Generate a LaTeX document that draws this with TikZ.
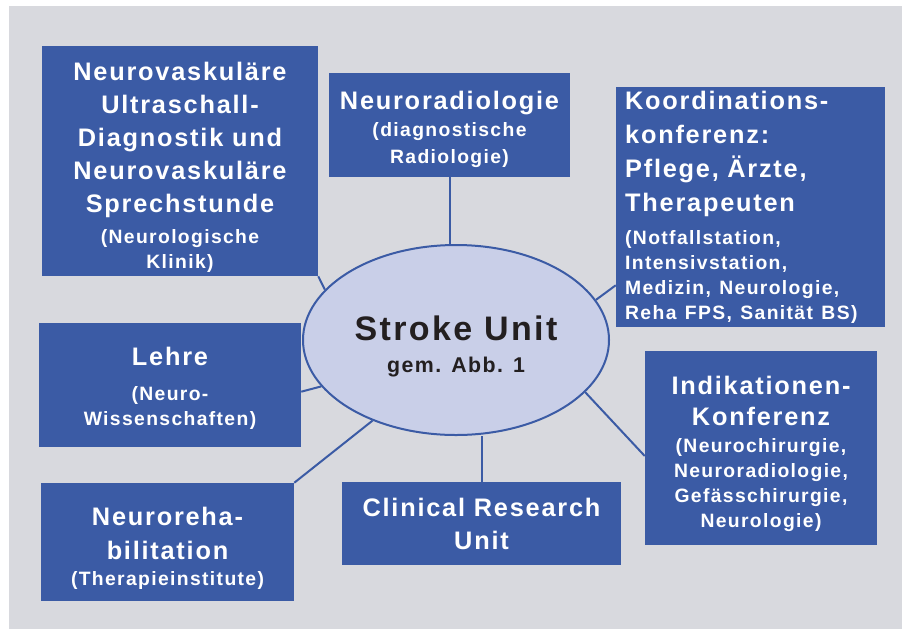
\documentclass[tikz,border=0pt]{standalone}
\usepackage{fontspec}
\setmainfont{Liberation Sans}[LetterSpace=7]
\usepackage{tikz}
\usetikzlibrary{positioning, shapes.geometric}
\usepackage{xcolor}

\definecolor{boxblue}{RGB}{59,91,165}
\definecolor{unitfill}{RGB}{201,207,232}
\definecolor{panelgray}{RGB}{216,217,222}
\definecolor{inkdark}{RGB}{35,31,32}

\newcommand{\bigtxt}{\fontsize{19}{18.75}\selectfont}
\newcommand{\smalltxt}{\fontsize{14.5}{18.75}\selectfont}
\newcommand{\textdrop}[1]{\rule{0pt}{#1}}

\tikzset{
	unitbox/.style={fill=boxblue, text=white, font=\bfseries\bigtxt, align=center, inner sep=0pt},
	link/.style={draw=boxblue, line width=1.5pt},
}

\begin{document}
\begin{tikzpicture}[x=0.75pt, y=-0.75pt, -]
		\useasboundingbox (0,0) rectangle (902,629);
		\fill[panelgray] (9,6) rectangle (902,629);
		
		\node[ellipse, draw=boxblue, line width=1.5pt, fill=unitfill, minimum width=229.5pt, minimum height=142.5pt, inner sep=0pt, text=inkdark, font=\bfseries\fontsize{16}{24}\selectfont, align=center] (su) at (456,340) {\fontsize{25.5}{24}\selectfont\textdrop{27.6pt}Stroke Unit\\gem. Abb. 1};
		
		\node[unitbox, minimum width=207pt, minimum height=172.5pt] (vask) at (180,161) {\textdrop{23.5pt}Neurovaskuläre\\[6pt]Ultraschall-\\[6pt]Diagnostik und\\[6pt]Neurovaskuläre\\[6pt]Sprechstunde\\[4.5pt]\smalltxt (Neurologische\\\smalltxt Klinik)};
		\node[unitbox, minimum width=180.75pt, minimum height=78pt] (radio) at (449.5,125) {\textdrop{19.85pt}Neuroradiologie\\[1.5pt]\smalltxt (diagnostische\\[1.5pt]\smalltxt Radiologie)};
		\node[unitbox, minimum width=201.75pt, minimum height=180pt, align=left, text width=188pt, inner xsep=6.75pt] (koord) at (750.5,207) {Koordinations-\\[6.75pt]konferenz:\\[6.75pt]Pflege, Ärzte,\\[6.75pt]Therapeuten\\[6pt]\smalltxt (Notfallstation,\\\smalltxt Intensivstation,\\\smalltxt Medizin, Neurologie,\\\smalltxt Reha FPS, Sanität BS)};
		\node[unitbox, minimum width=196.5pt, minimum height=93pt] (lehre) at (170,385) {\textdrop{18.35pt}Lehre\\[7.5pt]\smalltxt (Neuro-\\\smalltxt Wissenschaften)};
		\node[unitbox, minimum width=189.75pt, minimum height=88.5pt] (reha) at (167.5,542) {\textdrop{22.85pt}Neuroreha-\\[6.75pt]bilitation\\[0.75pt]\smalltxt (Therapieinstitute)};
		\node[unitbox, minimum width=209.25pt, minimum height=62.25pt] (clin) at (481.5,523.5) {Clinical Research\\[6pt]Unit};
		\node[unitbox, minimum width=174pt, minimum height=145.5pt] (indik) at (761,448) {\textdrop{22.85pt}Indikationen-\\[4.5pt]Konferenz\\[1.5pt]\smalltxt (Neurochirurgie,\\\smalltxt Neuroradiologie,\\\smalltxt Gefässchirurgie,\\\smalltxt Neurologie)};
		
		\draw[link] (su.159) edge[] (vask.south east) ;
		\draw[link] (radio.south) edge[] (radio.south |- su.north) ;
		\draw[link] (su.16) edge[] ([yshift=31.5pt]koord.south west) ;
		\draw[link] (su.199) edge[] ([yshift=-5pt]lehre.east) ;
		\draw[link] (su.224) edge[] (reha.north east) ;
		\draw[link] (clin.north) edge[] (clin.north |- su.south) ;
		\draw[link] (su.338) edge[] ([yshift=-6pt]indik.west) ;
	\end{tikzpicture}
\end{document}
